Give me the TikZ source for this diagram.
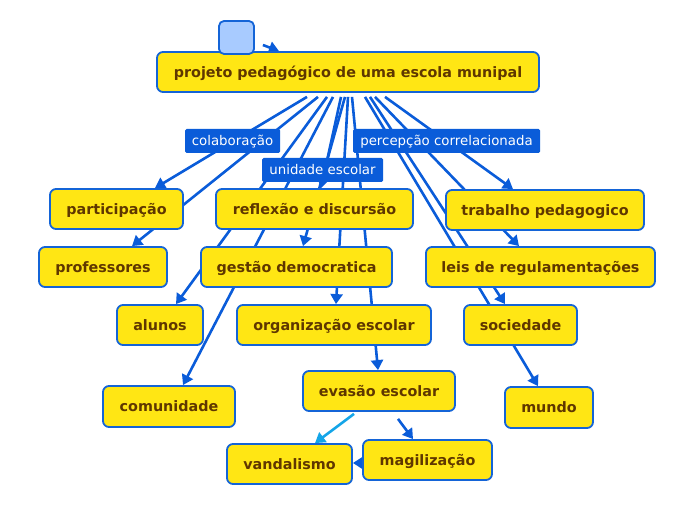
\documentclass[tikz,border=0pt]{standalone}
\usepackage{fontspec}
\setmainfont{DejaVu Sans}
\usetikzlibrary{arrows.meta,calc}
\definecolor{boxfill}{RGB}{255,230,20}
\definecolor{boxline}{RGB}{20,100,215}
\definecolor{txt}{RGB}{95,55,0}
\definecolor{edge}{RGB}{10,92,217}
\definecolor{lightedge}{RGB}{20,165,232}
\definecolor{lblfill}{RGB}{10,92,217}
\definecolor{sqfill}{RGB}{168,203,255}
\pgfdeclarelayer{bg}
\pgfsetlayers{bg,main}
\begin{document}
\begin{tikzpicture}[x=1bp,y=-1bp,
 topic/.style={draw=boxline, line width=1.8bp, fill=boxfill, rounded corners=6bp, text=txt,
   font=\fontsize{14.4}{16}\bfseries\selectfont, inner sep=0pt, text height=10.5bp, text depth=0pt},
 lbl/.style={fill=lblfill, text=white, rounded corners=1.5bp,
   font=\fontsize{13.4}{15}\selectfont, inner sep=0pt, minimum height=24bp, text height=10bp, text depth=0pt},
 conn/.style={draw=edge, line width=2.6bp, -{Triangle[length=10bp,width=12bp]}},
 lconn/.style={conn, draw=lightedge},
]
\useasboundingbox (0,0) rectangle (696,520);

\node[topic, minimum width=382bp, minimum height=40bp] (root) at (348,72) {projeto pedagógico de uma escola munipal};
\node[draw=boxline, line width=1.8bp, fill=sqfill, rounded corners=5bp, minimum width=35bp, minimum height=33bp, inner sep=0pt] (sq) at (236.5,37.5) {};
\node[topic, minimum width=133bp, minimum height=40bp] (participacao) at (116.5,209) {participação};
\node[topic, minimum width=128bp, minimum height=40bp] (professores) at (103,267) {professores};
\node[topic, minimum width=197bp, minimum height=40bp] (reflexao) at (314.5,209) {reflexão e discursão};
\node[topic, minimum width=191bp, minimum height=40bp] (gestao) at (296.5,267) {gestão democratica};
\node[topic, minimum width=198bp, minimum height=40bp] (trabalho) at (545,210) {trabalho pedagogico};
\node[topic, minimum width=229bp, minimum height=40bp] (leis) at (540.5,267) {leis de regulamentações};
\node[topic, minimum width=86bp, minimum height=40bp] (alunos) at (160,325) {alunos};
\node[topic, minimum width=194bp, minimum height=40bp] (organizacao) at (334,325) {organização escolar};
\node[topic, minimum width=113bp, minimum height=40bp] (sociedade) at (520.5,325) {sociedade};
\node[topic, minimum width=132bp, minimum height=41bp] (comunidade) at (169,406.5) {comunidade};
\node[topic, minimum width=152bp, minimum height=40bp] (evasao) at (379,391) {evasão escolar};
\node[topic, minimum width=88bp, minimum height=41bp] (mundo) at (549,407.5) {mundo};
\node[topic, minimum width=125bp, minimum height=40bp] (vandalismo) at (289.5,464) {vandalismo};
\node[topic, minimum width=129bp, minimum height=40bp] (magilizacao) at (427.5,460) {magilização};

\node[lbl, minimum width=95bp] (lcol) at (232.5,141) {colaboração};
\node[lbl, minimum width=121bp] (luni) at (322.5,170) {unidade escolar};
\node[lbl, minimum width=187bp] (lper) at (446.5,141) {percepção correlacionada};

\begin{pgfonlayer}{bg}
\draw[conn] ($(sq.east)+(8,7.5)$) -- ($(root.north)+(-69,0)$);
\draw[conn] ($(root.south)+(-41,4)$) -- ($(participacao.north)+(38.5,0)$);
\draw[conn] ($(root.south)+(-30,4)$) -- ($(professores.north)+(29,0)$);
\draw[conn] ($(root.south)+(-21,4)$) -- ($(alunos.north)+(16,0)$);
\draw[conn] ($(root.south)+(-15,4)$) -- ($(comunidade.north)+(14,0)$);
\draw[conn] ($(root.south)+(-7,4)$) -- ($(reflexao.north)+(6.5,0)$);
\draw[conn] ($(root.south)+(-3,4)$) -- ($(gestao.north)+(6.5,0)$);
\draw[conn] ($(root.south)+(0,4)$) -- ($(organizacao.north)+(2,0)$);
\draw[conn] ($(root.south)+(4,4)$) -- ($(evasao.north)+(-1,0)$);
\draw[conn] ($(root.south)+(17,4)$) -- ($(mundo.north)+(-11,0)$);
\draw[conn] ($(root.south)+(22,4)$) -- ($(sociedade.north)+(-15.5,0)$);
\draw[conn] ($(root.south)+(27,4)$) -- ($(leis.north)+(-21.5,0)$);
\draw[conn] ($(root.south)+(37,4)$) -- ($(trabalho.north)+(-32,0)$);
\draw[lconn] ($(evasao.south)+(-25,2)$) -- ($(vandalismo.north)+(25.5,0)$);
\draw[conn] ($(evasao.south)+(19,7)$) -- ($(magilizacao.north)+(-14.5,0)$);
\draw[conn] ($(magilizacao.west)+(1,3)$) -- ($(vandalismo.east)+(0,-1)$);
\end{pgfonlayer}
\end{tikzpicture}
\end{document}
